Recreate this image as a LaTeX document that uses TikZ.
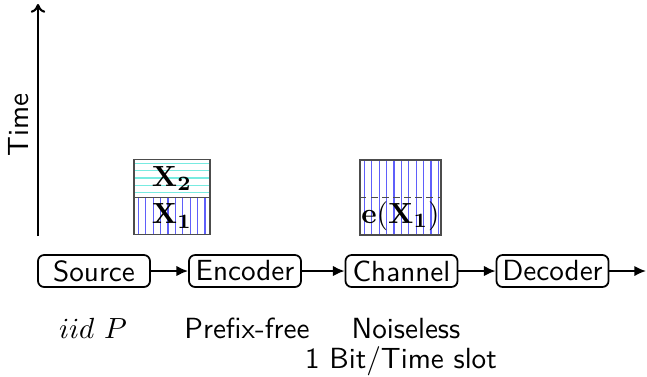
\documentclass[tikz,border=0pt]{standalone}
\usetikzlibrary{arrows.meta}
\newcommand{\pxu}{0.343pt}
\definecolor{hatchblue}{RGB}{95,95,250}
\definecolor{hatchcyan}{RGB}{120,235,225}
\begin{document}
\begin{tikzpicture}[x=0.343pt,y=-0.343pt,
  font=\sffamily,
  block/.style={draw,rounded corners=2.1pt,line width=0.6pt,minimum width=112*\pxu,minimum height=32*\pxu,inner sep=0pt},
  flow/.style={line width=0.7pt,-{Latex[length=4pt,width=3.6pt]}},
  cell/.style={draw=black!70,line width=0.4pt,minimum width=76*\pxu,minimum height=37.5*\pxu,inner sep=0pt},
  note/.style={anchor=base,inner sep=0pt},
  vhatch/.style={path picture={
    \foreach \k in {1,...,11}
      \draw[hatchblue,line width=0.4pt]
        ([xshift=\k*7.4*\pxu-3*\pxu]path picture bounding box.south west) --
        ([xshift=\k*7.4*\pxu-3*\pxu]path picture bounding box.north west);}},
  hhatch/.style={path picture={
    \foreach \k in {1,...,5}
      \draw[hatchcyan,line width=0.4pt]
        ([yshift=\k*7.4*\pxu-3*\pxu]path picture bounding box.south west) --
        ([yshift=\k*7.4*\pxu-3*\pxu]path picture bounding box.south east);}}]
\useasboundingbox (0,0) rectangle (647,376);

% time axis
\coordinate (t0) at (38,236);
\coordinate (t1) at (38,4);
\draw[line width=0.7pt,-{To[length=3pt,width=5pt]}] (t0) -- (t1);
\node[rotate=90] (time) at (19,125) {Time};

% processing chain
\node[block] (src) at (94,271) {Source};
\node[block] (enc) at (245,271) {Encoder};
\node[block] (chn) at (401.5,271) {Channel};
\node[block] (dec) at (552.5,271) {Decoder};
\coordinate (out) at (646,271);
\draw[flow] (src) -- (enc);
\draw[flow] (enc) -- (chn);
\draw[flow] (chn) -- (dec);
\draw[flow] (dec) -- (out);

% source symbols stacked in time
\node[cell,hhatch] (x2) at (172,178.5) {$\mathbf{X_2}$};
\node[cell,vhatch] (x1) at (172,216) {$\mathbf{X_1}$};

% channel slots
\node[draw=black!70,line width=0.4pt,minimum width=81*\pxu,minimum height=75*\pxu,inner sep=0pt,vhatch] (slots) at (400.5,197.5) {};
\coordinate (sl) at (360,197.5);
\coordinate (sr) at (441,197.5);
\draw[black!70,line width=0.4pt,dash pattern=on 2.2pt off 1.6pt] (sl) -- (sr);
\node (ex1) at (400.5,216) {$\mathbf{e(X_1)}$};

% annotations
\node[note] (iid) at (93,338) {$iid\ P$};
\node[note] (pf) at (247,338) {Prefix-free};
\node[note] (nl) at (406,338) {Noiseless};
\node[note] (bit) at (401,368) {1 Bit/Time slot};
\end{tikzpicture}
\end{document}
